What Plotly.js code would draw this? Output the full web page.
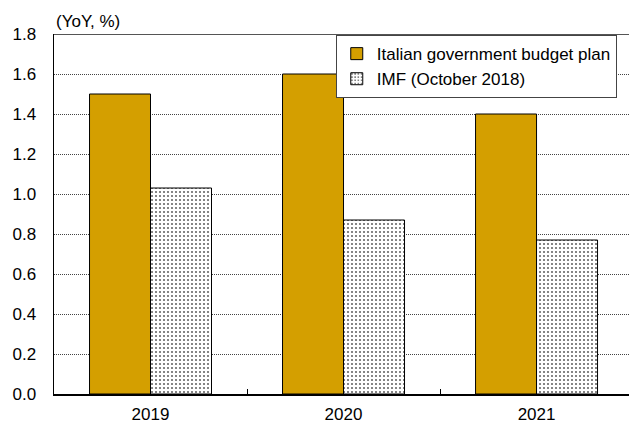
<!DOCTYPE html>
<html><head><meta charset="utf-8">
<script src="https://cdn.plot.ly/plotly-3.0.1.min.js"></script>
<style>html,body{margin:0;padding:0;overflow:hidden;background:#fff}</style>
</head><body><div id="chart" style="width:629px;height:425px"></div>
<script>
const years = ["2019", "2020", "2021"];
const budgetPlan = [1.5, 1.6, 1.4];
const imfOct2018 = [1.03, 0.87, 0.77];
const seriesNames = ["Italian government budget plan", "IMF (October 2018)"];
const yUnit = "(YoY, %)";

const traces = [
  {type: 'bar', x: years, y: budgetPlan, name: seriesNames[0], legendgroup: 'a',
   marker: {color: '#D49F00', line: {color: '#000', width: 1}}},
  {type: 'bar', x: years, y: imfOct2018, name: seriesNames[1], legendgroup: 'b',
   marker: {color: '#ffffff', line: {color: '#000', width: 1},
            pattern: {shape: '.', fgcolor: '#666', bgcolor: '#fff', size: 4, solidity: 0.22}}}
];
const layout = {
  width: 629, height: 425,
  margin: {l: 54, r: 0, t: 34, b: 31},
  paper_bgcolor: '#fff', plot_bgcolor: '#fff',
  font: {family: 'Liberation Sans, Arial, sans-serif', size: 17, color: '#000'},
  barmode: 'group', bargap: 0.368, bargroupgap: 0,
  showlegend: true,
  legend: {x: 0.49, y: 0.997, xanchor: 'left', yanchor: 'top', bgcolor: '#fff',
           bordercolor: '#444', borderwidth: 1, traceorder: 'grouped', tracegroupgap: 0,
           font: {size: 17}},
  xaxis: {type: 'category', range: [-0.5, 2.479], autorange: false,
          showline: true, linecolor: '#000', linewidth: 1.5,
          ticks: 'inside', tickson: 'boundaries', ticklen: 5, tickcolor: '#000',
          ticklabelstandoff: 4, showgrid: false, tickfont: {size: 17}},
  yaxis: {range: [0, 1.8], dtick: 0.2, tickformat: '.1f', showline: true, linecolor: '#000',
          linewidth: 1.5, ticks: '', ticklabelstandoff: 13, showgrid: true, gridcolor: '#444',
          griddash: '1px,1px', gridwidth: 1, zeroline: false, tickfont: {size: 17}},
  shapes: [{type: 'line', xref: 'paper', yref: 'y', x0: 0, x1: 1, y0: 1.8, y1: 1.8,
            line: {color: '#555', width: 2}}],
  annotations: [{text: yUnit, xref: 'paper', yref: 'paper', x: 0, y: 1.0, xanchor: 'left',
                 yanchor: 'bottom', yshift: 1, showarrow: false, font: {size: 17}}]
};
Plotly.newPlot('chart', traces, layout, {displayModeBar: false, staticPlot: true});
</script></body></html>
